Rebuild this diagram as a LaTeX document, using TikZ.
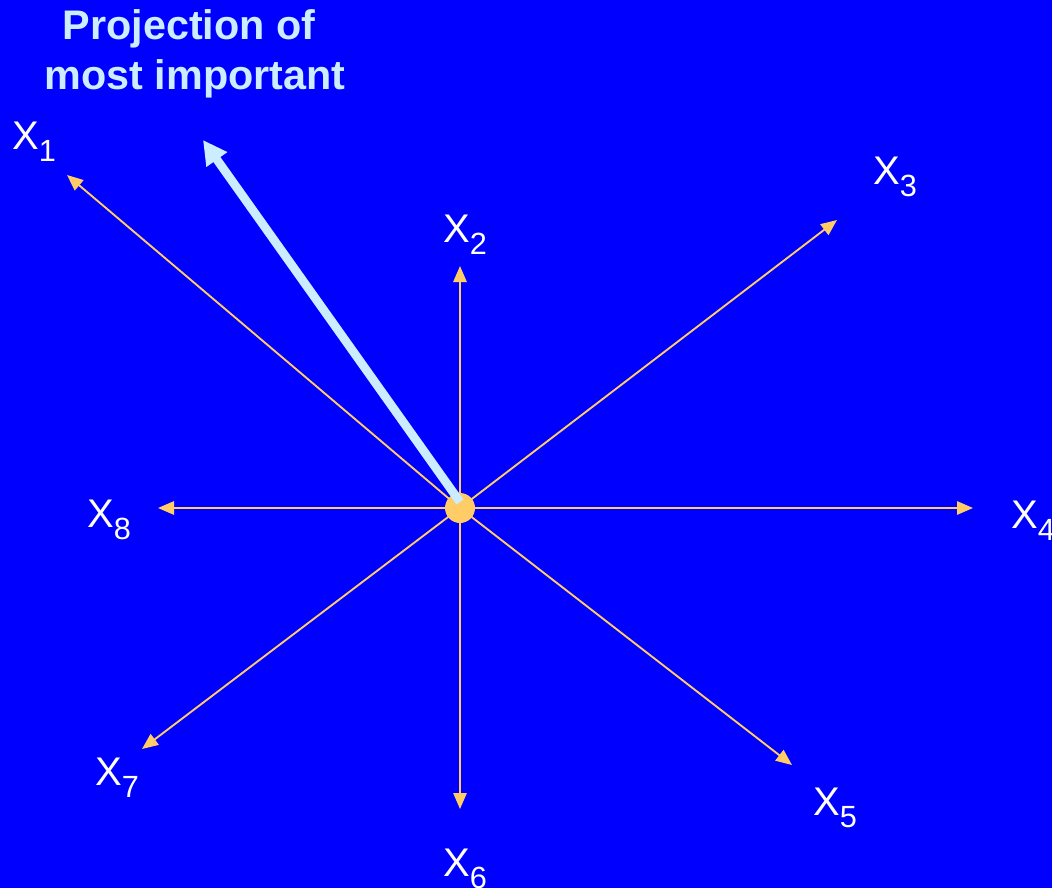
\documentclass[tikz,border=0pt]{standalone}
\usepackage{fontspec}
\setmainfont{Liberation Sans}
\usetikzlibrary{arrows.meta}

\definecolor{bgblue}{RGB}{0,0,255}
\definecolor{axisyellow}{RGB}{255,204,102}
\definecolor{paleblue}{RGB}{204,236,255}

\newcommand\xlab[1]{X\raisebox{-9pt}{\fontsize{23pt}{23pt}\selectfont #1}}

\begin{document}
\begin{tikzpicture}[x=0.75pt,y=-0.75pt,line cap=round,line join=round,
  every node/.style={inner sep=0pt},
  axis/.style={draw=axisyellow,line width=1.4pt,-{Triangle[length=12pt,width=10pt]}},
  proj/.style={draw=paleblue,line width=6.5pt,line cap=butt,-{Triangle[length=18pt,width=18pt]}},
  axlab/.style={anchor=base west,text=white,font=\fontsize{30pt}{30pt}\selectfont},
  titletxt/.style={anchor=base,text=paleblue,font=\bfseries\fontsize{31pt}{31pt}\selectfont}]
  \useasboundingbox (0,0) rectangle (1052,888);
  \fill[bgblue] (0,0) rectangle (1052,888);
  \coordinate (o) at (460,508);
  % axis arrows
  \foreach \n/\x/\y in {1/67/175,2/460/266,3/837/220,4/973/508,5/792/765,6/460/809,7/142/749,8/158/508}{
    \coordinate (t\n) at (\x,\y);
    \draw[axis] (o) -- (t\n);
  }
  % axis labels
  \foreach \n/\x/\y in {1/12/150,2/443/242,3/873/185,4/1011/528,5/813/815,6/443/876,7/95/785,8/87/527}{
    \node[axlab] (l\n) at (\x,\y) {\xlab{\n}};
  }
  \fill[axisyellow] (o) circle (15);
  \coordinate (ps) at (460,502);
  \coordinate (pe) at (203,140);
  \draw[proj] (ps) -- (pe);
  \node[titletxt] (title1) at (189,40) {Projection of};
  \node[titletxt] (title2) at (195,90) {most important};
\end{tikzpicture}
\end{document}
